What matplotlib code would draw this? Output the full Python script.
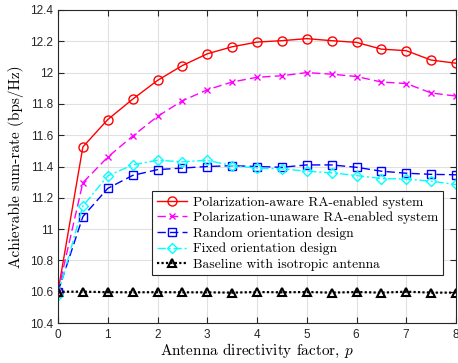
import matplotlib
matplotlib.use("Agg")
import matplotlib.pyplot as plt
import numpy as np

plt.rcParams['mathtext.fontset'] = 'cm'
plt.rcParams['axes.formatter.use_mathtext'] = True

p = [0, 0.5, 1, 1.5, 2, 2.5, 3, 3.5, 4, 4.5, 5, 5.5, 6, 6.5, 7, 7.5, 8]
aware = [10.60, 11.525, 11.70, 11.83, 11.95, 12.045, 12.12, 12.165, 12.195, 12.204, 12.217, 12.204,
         12.193, 12.15, 12.14, 12.08, 12.06]
unaware = [10.60, 11.297, 11.46, 11.594, 11.72, 11.82, 11.89, 11.94, 11.97, 11.98, 12.00, 11.99,
           11.975, 11.94, 11.93, 11.87, 11.85]
random_or = [10.60, 11.08, 11.26, 11.343, 11.38, 11.39, 11.40, 11.405, 11.40, 11.395, 11.41, 11.41,
             11.395, 11.37, 11.357, 11.35, 11.347]
fixed_or = [10.58, 11.147, 11.34, 11.41, 11.44, 11.43, 11.44, 11.405, 11.39, 11.385, 11.37, 11.36,
            11.342, 11.323, 11.32, 11.306, 11.285]
baseline = [10.600, 10.600, 10.597, 10.596, 10.597, 10.596, 10.596, 10.594, 10.598, 10.596, 10.598,
            10.594, 10.598, 10.594, 10.600, 10.594, 10.594]

labels = ["Polarization-aware RA-enabled system",
          "Polarization-unaware RA-enabled system",
          "Random orientation design",
          "Fixed orientation design",
          "Baseline with isotropic antenna"]

fig = plt.figure(figsize=(4.58, 3.63), dpi=100)
ax = fig.add_axes([58/458, 1-323/363, 398/458, 313/363])

ms = 6.5
ax.plot(p, aware, color=(1, 0, 0), ls='-', lw=1.0, marker='o', mfc='none', ms=ms, mew=1.0, label=labels[0])
ax.plot(p, unaware, color=(1, 0, 1), ls=(0, (6, 3)), lw=1.0, marker='x', ms=5, mew=1.0, label=labels[1])
ax.plot(p, random_or, color=(0, 0, 1), ls=(0, (6, 3)), lw=1.0, marker='s', mfc='none', ms=5.5, mew=1.0, label=labels[2])
ax.plot(p, fixed_or, color=(0, 1, 1), ls=(0, (6, 2, 1.5, 2)), lw=1.0, marker='D', mfc='none', ms=5, mew=1.0, label=labels[3])
ax.plot(p, baseline, color='black', ls=(0, (1, 1)), lw=1.6, marker='^', mfc='none', ms=6, mew=1.5, label=labels[4])

ax.set_xlim(0, 8)
ax.set_ylim(10.4, 12.4)
ax.set_xticks(range(0, 9))
ax.set_yticks([10.4, 10.6, 10.8, 11, 11.2, 11.4, 11.6, 11.8, 12, 12.2, 12.4])
ax.set_yticklabels(['10.4', '10.6', '10.8', '11', '11.2', '11.4', '11.6', '11.8', '12', '12.2', '12.4'])
ax.tick_params(direction='in', top=True, right=True, labelsize=8.5, length=4, width=0.8, colors='#262626')
for lab in ax.get_xticklabels() + ax.get_yticklabels():
    lab.set_fontfamily('Liberation Sans')
    lab.set_color('#262626')
ax.grid(True, color='#e0e0e0', lw=0.8)
ax.set_axisbelow(True)
for s in ax.spines.values():
    s.set_linewidth(0.8)
    s.set_color('#262626')

ax.set_xlabel(r"Antenna directivity factor, $p$", fontfamily='cmr10', fontsize=11, labelpad=1)
ax.set_ylabel("Achievable sum-rate (bps/Hz)", fontfamily='cmr10', fontsize=11, labelpad=4)

leg = ax.legend(loc='lower right', bbox_to_anchor=(0.968, 0.152), prop={'family': 'cmr10', 'size': 9.7},
                fancybox=False, edgecolor='#262626', framealpha=1, handlelength=2.2,
                borderpad=0.35, labelspacing=0.22, handletextpad=0.5, borderaxespad=0)
leg.get_frame().set_linewidth(0.8)

fig.savefig("out.png", dpi=100)
